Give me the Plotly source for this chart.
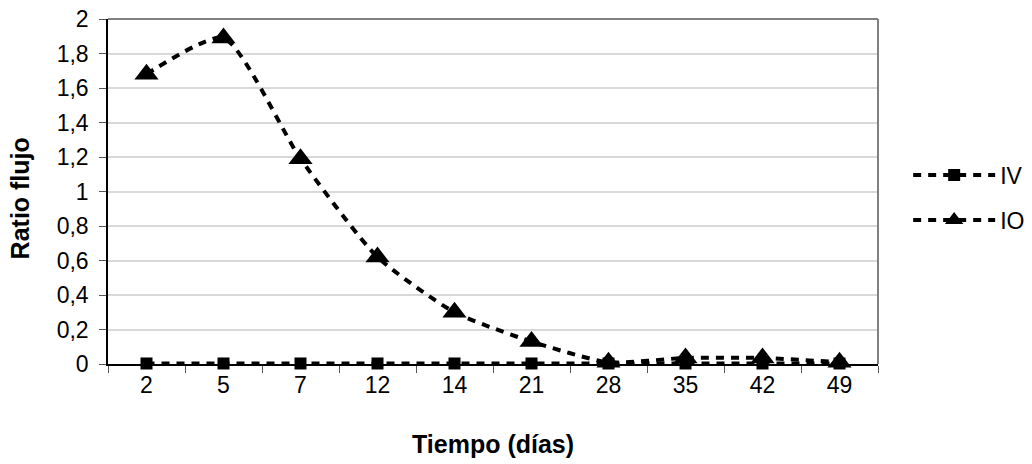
import plotly.graph_objects as go

dias = ["2", "5", "7", "12", "14", "21", "28", "35", "42", "49"]
iv = [0.003, 0.003, 0.003, 0.003, 0.003, 0.003, 0.003, 0.003, 0.003, 0.003]
io = [1.68, 1.89, 1.19, 0.62, 0.30, 0.13, 0.01, 0.035, 0.035, 0.01]

FONT = "Liberation Sans, Arial, sans-serif"

fig = go.Figure()
fig.add_trace(go.Scatter(
    x=dias, y=iv, name="IV", mode="lines+markers", legendgroup="a",
    line=dict(color="black", width=4, dash="8px,7px"),
    marker=dict(symbol="square", size=12, color="black"),
    cliponaxis=False,
))
fig.add_trace(go.Scatter(
    x=dias, y=io, name="IO", mode="lines+markers", legendgroup="b",
    line=dict(color="black", width=4, dash="8px,7px", shape="spline", smoothing=0.6),
    marker=dict(symbol="triangle-up", size=21, color="black"),
    cliponaxis=False,
))

fig.update_layout(
    width=1032, height=464,
    margin=dict(l=108, r=154, t=19, b=100, autoexpand=False),
    paper_bgcolor="white", plot_bgcolor="white",
    separators=",.",
    font=dict(family=FONT, size=23, color="black"),
    showlegend=True,
    legend=dict(xref="container", yref="container", x=0.880, y=0.574,
                xanchor="left", yanchor="middle",
                font=dict(size=23), itemwidth=82, tracegroupgap=12,
                bgcolor="rgba(0,0,0,0)"),
    xaxis=dict(
        type="category", range=[-0.5, len(dias) - 0.5],
        showgrid=False, showline=True, linecolor="black", linewidth=1.5,
        ticks="outside", tickson="boundaries", ticklen=7, tickcolor="#555",
        automargin=False, tickfont=dict(size=23),
    ),
    yaxis=dict(
        range=[0, 2], dtick=0.2, showgrid=True, gridcolor="#d9d9d9", gridwidth=1.5,
        showline=True, linecolor="black", linewidth=1.5, zeroline=False,
        ticks="outside", ticklen=7, tickcolor="#555", ticklabelstandoff=6,
        automargin=False, tickfont=dict(size=23),
    ),
    shapes=[
        dict(type="line", xref="paper", yref="paper", x0=0, x1=1, y0=1, y1=1,
             line=dict(color="#808080", width=2)),
        dict(type="line", xref="paper", yref="paper", x0=1, x1=1, y0=0, y1=1,
             line=dict(color="#808080", width=2)),
    ],
    annotations=[
        dict(text="<b>Tiempo (días)</b>", xref="paper", yref="paper", x=0.5, y=0,
             yshift=-80, xanchor="center", yanchor="middle", showarrow=False,
             font=dict(size=25)),
        dict(text="<b>Ratio flujo</b>", xref="paper", yref="paper", x=0, y=0.48,
             xshift=-88, xanchor="center", yanchor="middle", showarrow=False,
             textangle=-90, font=dict(size=25)),
    ],
)

fig.write_html("out.html")
